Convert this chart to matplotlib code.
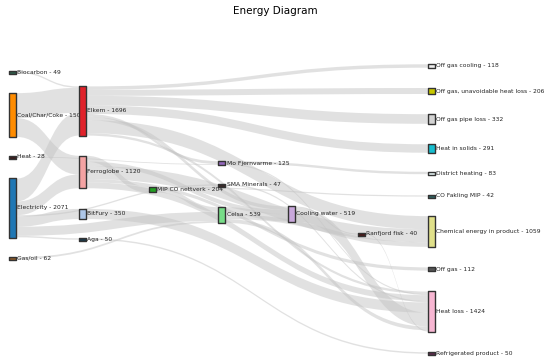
import matplotlib
matplotlib.use('Agg')
import matplotlib.pyplot as plt
from matplotlib.path import Path
from matplotlib.patches import PathPatch, Rectangle

# node data
names = ['Biocarbon', 'Coal/Char/Coke', 'Heat', 'Electricity', 'Gas/oil',
         'Elkem', 'Ferroglobe', 'BitFury', 'Aga',
         'MIP CO nettverk',
         'Mo Fjernvarme', 'SMA Minerals', 'Celsa',
         'Cooling water',
         'Ranfjord fisk',
         'Off gas cooling', 'Off gas, unavoidable heat loss', 'Off gas pipe loss',
         'Heat in solids', 'District heating', 'CO Fakling MIP',
         'Chemical energy in product', 'Off gas', 'Heat loss', 'Refrigerated product']
values = [49, 1507, 28, 2071, 62,
          1696, 1120, 350, 50,
          204,
          125, 47, 539,
          519,
          40,
          118, 206, 332, 291, 83, 42, 1059, 112, 1424, 50]

# flows (source, target, value)
sources = ['Biocarbon', 'Coal/Char/Coke', 'Coal/Char/Coke', 'Heat',
           'Electricity', 'Electricity', 'Electricity', 'Electricity', 'Electricity', 'Electricity',
           'Gas/oil',
           'Elkem', 'Elkem', 'Elkem', 'Elkem', 'Elkem', 'Elkem', 'Elkem', 'Elkem',
           'Ferroglobe', 'Ferroglobe', 'Ferroglobe', 'Ferroglobe', 'Ferroglobe',
           'BitFury', 'Aga',
           'MIP CO nettverk', 'MIP CO nettverk',
           'Mo Fjernvarme', 'Mo Fjernvarme', 'SMA Minerals',
           'Celsa', 'Celsa', 'Celsa',
           'Cooling water', 'Cooling water',
           'Ranfjord fisk']
targets = ['Elkem', 'Elkem', 'Ferroglobe', 'Mo Fjernvarme',
           'Elkem', 'Ferroglobe', 'BitFury', 'SMA Minerals', 'Celsa', 'Aga',
           'Celsa',
           'Off gas cooling', 'Off gas, unavoidable heat loss', 'Off gas pipe loss',
           'Heat in solids', 'Mo Fjernvarme', 'Chemical energy in product', 'Cooling water', 'Heat loss',
           'MIP CO nettverk', 'Off gas', 'Chemical energy in product', 'Cooling water', 'Heat loss',
           'Heat loss', 'Refrigerated product',
           'Celsa', 'CO Fakling MIP',
           'District heating', 'Heat loss', 'Heat loss',
           'Cooling water', 'Chemical energy in product', 'Heat loss',
           'Ranfjord fisk', 'Heat loss',
           'Heat loss']
flows = [49, 860, 647, 28,
         787, 473, 350, 47, 315, 50,
         62,
         118, 206, 332, 291, 97, 450, 119, 83,
         204, 112, 450, 150, 204,
         350, 50,
         162, 42,
         83, 42, 47,
         250, 159, 130,
         40, 479,
         40]

# layout: column index and vertical centre (pixels from top)
columns = [0, 0, 0, 0, 0,
           1, 1, 1, 1,
           2,
           3, 3, 3,
           4,
           5,
           6, 6, 6, 6, 6, 6, 6, 6, 6, 6]
centres = [72, 115, 157, 208, 258,
           111, 172, 214, 239,
           189.5,
           163, 185, 215,
           214,
           234,
           66, 91, 119, 148.5, 173, 196, 231.5, 269, 311.5, 353]
colors = ['#2e5a48', '#ff8c00', '#3a1c1c', '#1f77b4', '#8b5a2b',
          '#e0222a', '#f4a3a3', '#aec7e8', '#1c3a4a',
          '#22a022',
          '#9467bd', '#3a2a2a', '#77dd88',
          '#c9a8dc',
          '#4a1a1a',
          '#eeeeee', '#c8c800', '#d3d3d3', '#17becf', '#e6f4f4', '#2f5f5f',
          '#e0e08a', '#555555', '#f7b6d2', '#5a2a4a']

scale = 0.029
node_w = 7
col_x0 = 9
col_dx = 69.8

fig = plt.figure(figsize=(5.5, 3.62), dpi=100)
ax = fig.add_axes([0, 0, 1, 1])
ax.set_xlim(0, 550)
ax.set_ylim(362, 0)
ax.axis('off')

idx = {n: i for i, n in enumerate(names)}
src = [idx[s] for s in sources]
dst = [idx[t] for t in targets]

# stack link ends at each node
out_pos = {}
in_pos = {}
for n in range(len(names)):
    outs = sorted([k for k in range(len(src)) if src[k] == n], key=lambda k: centres[dst[k]])
    y = centres[n] - sum(flows[k] for k in outs) * scale / 2
    for k in outs:
        out_pos[k] = y
        y += flows[k] * scale
    ins = sorted([k for k in range(len(dst)) if dst[k] == n], key=lambda k: centres[src[k]])
    y = centres[n] - sum(flows[k] for k in ins) * scale / 2
    for k in ins:
        in_pos[k] = y
        y += flows[k] * scale

for k in range(len(src)):
    w = flows[k] * scale
    x0 = col_x0 + col_dx * columns[src[k]] + node_w
    x1 = col_x0 + col_dx * columns[dst[k]]
    xm = (x0 + x1) / 2
    a0, a1 = out_pos[k], in_pos[k]
    b0, b1 = a0 + w, a1 + w
    verts = [(x0, a0), (xm, a0), (xm, a1), (x1, a1), (x1, b1),
             (xm, b1), (xm, b0), (x0, b0), (x0, a0)]
    codes = [Path.MOVETO, Path.CURVE4, Path.CURVE4, Path.CURVE4, Path.LINETO,
             Path.CURVE4, Path.CURVE4, Path.CURVE4, Path.CLOSEPOLY]
    ax.add_patch(PathPatch(Path(verts, codes), fc='#c4c4c4', ec='none', alpha=0.5, zorder=1))

for n in range(len(names)):
    h = max(values[n] * scale, 3.0)
    x = col_x0 + col_dx * columns[n]
    ax.add_patch(Rectangle((x, centres[n] - h / 2), node_w, h, fc=colors[n],
                           ec='#333333', lw=1.0, joinstyle='round', zorder=4))
    ax.text(x + node_w + 1.2, centres[n], f'{names[n]} - {values[n]}',
            fontsize=4.3, color='#222222', ha='left', va='center', zorder=3)

ax.text(275, 11, 'Energy Diagram', fontsize=7.5, ha='center', va='center')

fig.savefig('out.png', dpi=100)
